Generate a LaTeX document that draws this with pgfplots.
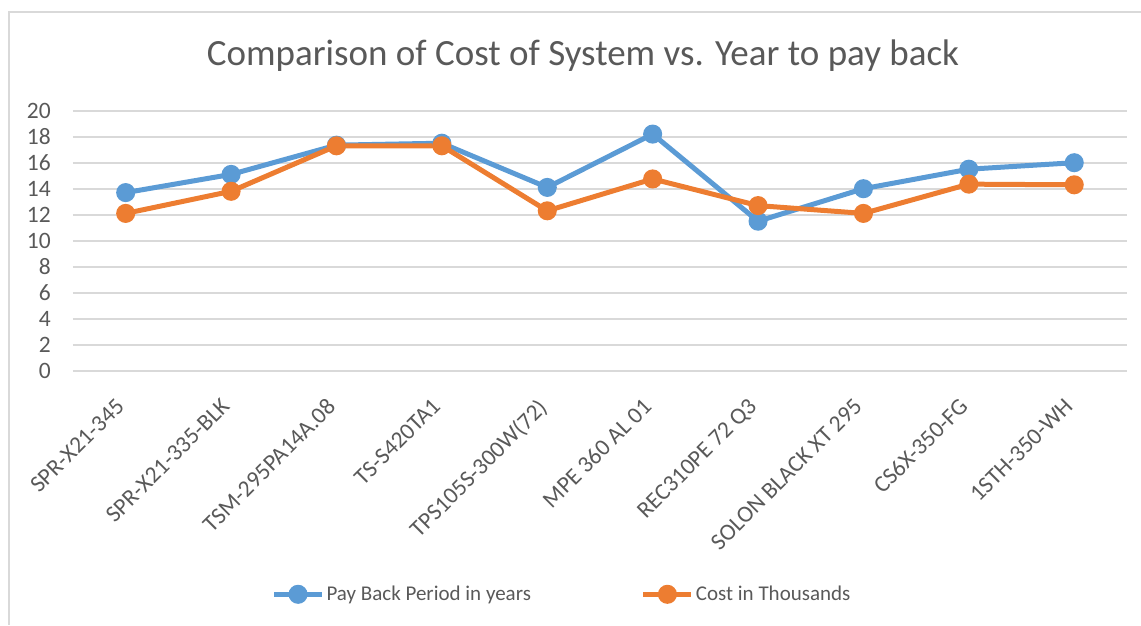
\documentclass[border=0pt]{standalone}
\usepackage{pgfplots}
\pgfplotsset{compat=1.18}
\usepackage{fontspec}
\setmainfont{Carlito}
\definecolor{cblue}{HTML}{5B9BD5}
\definecolor{corange}{HTML}{ED7D31}
\definecolor{ctext}{HTML}{595959}
\definecolor{cgrid}{HTML}{D9D9D9}
\begin{document}
\begin{tikzpicture}[x=1pt,y=1pt]
\path[use as bounding box] (0,0) rectangle (1141,625);
\draw[cgrid, line width=1.5pt] (1141,613) -- (9,613) -- (9,0);
\node[text=ctext, font=\fontsize{37}{44}\selectfont] at (583,569) {Comparison of Cost of System vs. Year to pay back};
\begin{axis}[
  at={(73pt,254.3pt)}, anchor=south west,
  scale only axis, width=1054pt, height=260pt,
  xmin=-0.5, xmax=9.5, ymin=0, ymax=20,
  ytick={0,2,...,20},
  xtick={0,...,9},
  xticklabels={SPR-X21-345,SPR-X21-335-BLK,TSM-295PA14A.08,TS-S420TA1,TPS105S-300W(72),MPE 360 AL 01,REC310PE 72 Q3,SOLON BLACK XT 295,CS6X-350-FG,1STH-350-WH},
  /pgf/number format/assume math mode=true,
  ticklabel style={text=ctext, font=\fontsize{23.5}{28}\selectfont},
  xticklabel style={xshift=-11pt, yshift=-26pt, rotate=45, anchor=north east, inner sep=0pt},
  yticklabel style={anchor=east, inner sep=0pt, xshift=-22pt},
  axis line style={draw=none},
  major tick length=0pt,
  ymajorgrids, major grid style={cgrid, line width=1.8pt},
  clip=false,
  legend columns=2,
  legend style={at={(0.464,-0.86)}, anchor=center, draw=none, fill=none, text=ctext, font=\fontsize{21}{25}\selectfont, /tikz/every even column/.append style={column sep=108pt}},
  legend image code/.code={\draw[#1, mark repeat=2, mark phase=2] plot coordinates {(0pt,0pt) (24pt,0pt) (48pt,0pt)};},
]
\addplot[cblue, line width=5pt, mark=*, mark size=7pt, mark options={solid}] coordinates {
(0,13.7) (1,15.1) (2,17.35) (3,17.5) (4,14.1) (5,18.2) (6,11.5) (7,14.0) (8,15.5) (9,16.0)};
\addlegendentry{Pay Back Period in years}
\addplot[corange, line width=5pt, mark=*, mark size=7pt, mark options={solid}] coordinates {
(0,12.1) (1,13.8) (2,17.3) (3,17.3) (4,12.3) (5,14.75) (6,12.7) (7,12.1) (8,14.35) (9,14.3)};
\addlegendentry{Cost in Thousands}
\end{axis}
\end{tikzpicture}
\end{document}
